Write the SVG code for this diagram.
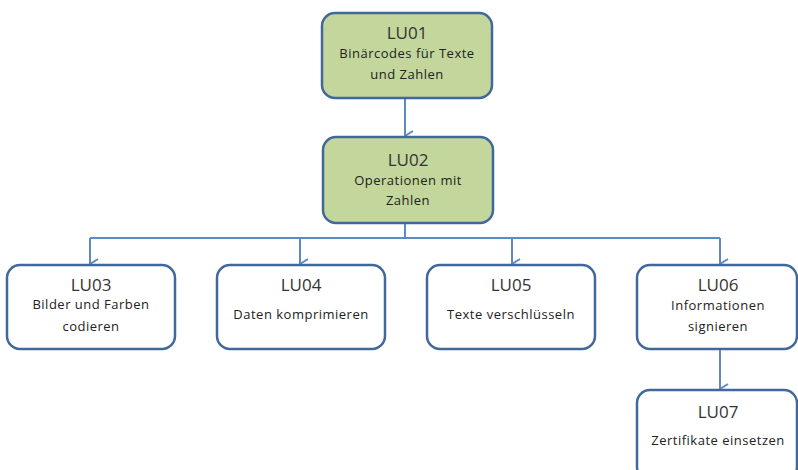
<svg xmlns="http://www.w3.org/2000/svg" width="798" height="470" viewBox="0 0 798 470">
<defs>
<style>
.box{fill:#ffffff;stroke:#41689a;stroke-width:2.5}
.green{fill:#c3d69b}
.conn{fill:none;stroke:#5b8ac6;stroke-width:2}
.t{font-family:"Open Sans","Liberation Sans",sans-serif;font-size:17px;fill:#333333;text-anchor:middle}
.s{font-family:"Open Sans","Liberation Sans",sans-serif;font-size:13px;letter-spacing:0.5px;fill:#222222;text-anchor:middle}
</style>
<marker id="arr" viewBox="0 0 12 10" refX="6" refY="9" markerWidth="12" markerHeight="10" markerUnits="userSpaceOnUse" orient="auto-start-reverse">
<path d="M1,1 L6,9 L11,1" fill="none" stroke="#5b8ac6" stroke-width="2"/>
</marker>
</defs>
<rect width="798" height="470" fill="#ffffff"/>
<g id="connectors">
<path class="conn" d="M405,98 V136" marker-end="url(#arr)"/>
<path class="conn" d="M405,223 V238 H90 M90,238 H720"/>
<path class="conn" d="M90,238 V264" marker-end="url(#arr)"/>
<path class="conn" d="M300,238 V264" marker-end="url(#arr)"/>
<path class="conn" d="M512,238 V264" marker-end="url(#arr)"/>
<path class="conn" d="M720,238 V264" marker-end="url(#arr)"/>
<path class="conn" d="M720,349 V389" marker-end="url(#arr)"/>
</g>
<g id="LU01">
<rect class="box green" x="322" y="13" width="170" height="85" rx="13"/>
<text class="t" x="407" y="39">LU01</text>
<text class="s" x="407" y="58">Binärcodes für Texte</text>
<text class="s" x="407" y="79">und Zahlen</text>
</g>
<g id="LU02">
<rect class="box green" x="323" y="137" width="170" height="86" rx="13"/>
<text class="t" x="408" y="166">LU02</text>
<text class="s" x="408" y="185">Operationen mit</text>
<text class="s" x="408" y="205">Zahlen</text>
</g>
<g id="LU03">
<rect class="box" x="7" y="265" width="168" height="84" rx="13"/>
<text class="t" x="91" y="291">LU03</text>
<text class="s" x="91" y="309">Bilder und Farben</text>
<text class="s" x="91" y="331">codieren</text>
</g>
<g id="LU04">
<rect class="box" x="217" y="265" width="168" height="84" rx="13"/>
<text class="t" x="301" y="291">LU04</text>
<text class="s" x="301" y="319">Daten komprimieren</text>
</g>
<g id="LU05">
<rect class="box" x="427" y="265" width="168" height="84" rx="13"/>
<text class="t" x="511" y="291">LU05</text>
<text class="s" x="511" y="319">Texte verschlüsseln</text>
</g>
<g id="LU06">
<rect class="box" x="637" y="265" width="160" height="84" rx="13"/>
<text class="t" x="718" y="291">LU06</text>
<text class="s" x="718" y="310">Informationen</text>
<text class="s" x="718" y="331">signieren</text>
</g>
<g id="LU07">
<rect class="box" x="637" y="390" width="160" height="90" rx="13"/>
<text class="t" x="718" y="418">LU07</text>
<text class="s" x="718" y="445">Zertifikate einsetzen</text>
</g>
</svg>
